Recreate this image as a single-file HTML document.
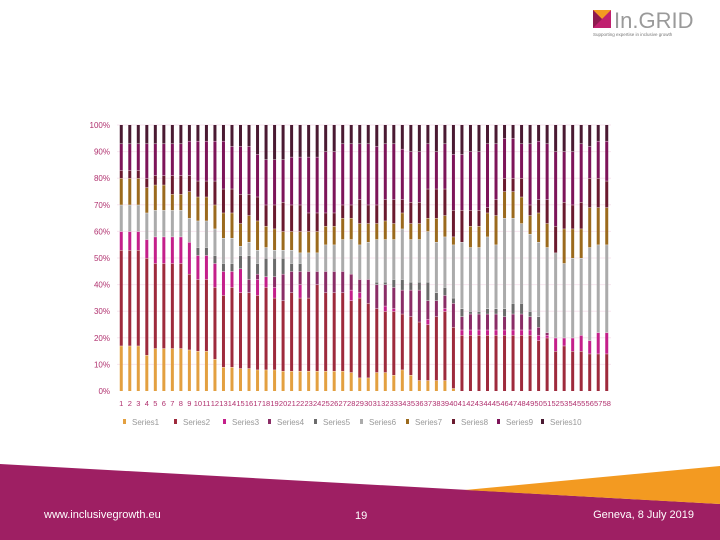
<!DOCTYPE html>
<html><head><meta charset="utf-8"><style>
body{margin:0;width:720px;height:540px;overflow:hidden;background:#fff;font-family:"Liberation Sans",sans-serif}
svg{display:block}
</style></head><body>
<svg id="chart" width="720" height="540" viewBox="0 0 720 540">
<g>
<polygon points="593,10 611,10 611,28 593,28" fill="#c0206f"/>
<polygon points="593,10 611,10 602,19" fill="#f39a21"/>
<polygon points="593,10 602,19 593,28" fill="#8e1a4f"/>
<text x="614" y="28" font-size="22" fill="#9a9a9a">In.GRID</text>
<text x="593" y="36" font-size="4.5" fill="#777">Supporting expertise in inclusive growth</text>
</g>
<g id="grid"></g><g id="bars"></g><g id="axes"></g><g id="legend"></g>
<g>
<polygon points="0,464 720,504 720,540 0,540" fill="#9e1f63"/>
<polygon points="465,490 720,466 720,504" fill="#f39a21"/>
<text x="44" y="518" font-size="11" fill="#fff">www.inclusivegrowth.eu</text>
<text x="355" y="519" font-size="11" fill="#fff">19</text>
<text x="694" y="518" font-size="11" fill="#fff" text-anchor="end">Geneva, 8 July 2019</text>
</g>
</svg>
<script>
const categories = Array.from({length:58},(_,i)=>String(i+1));
const yTicks = [0,10,20,30,40,50,60,70,80,90,100];
const seriesNames = ["Series1","Series2","Series3","Series4","Series5","Series6","Series7","Series8","Series9","Series10"];
const seriesColors = ["#e3a040","#9e2a3c","#c41f8a","#8a2d66","#6b6b6b","#ababab","#9b6a1d","#6a1a2e","#7d1459","#4a1a32"];
// cumulative top (%) of each series per category
const s1Top=[17,17,17,13.5,16,16,16,16,15.5,15,15,12,9,9,8.5,8.5,8,8,8,7.5,7.5,7.5,7.5,7.5,7.5,7.5,7.5,7,5,5,7,7,6,8,6,4,4,4,4,1,0,0,0,0,0,0,0,0,0,0,0,0,0,0,0,0,0,0];
const s2Top=[53,53,53,50,48,48,48,48,44,42,42,39,36,39,37,37,36,39,35,34,37,35,35,40,37,37,37,34,35,33,31,30,30,29,28,26,25,28,30,24,21,21,21,21,21,21,21,21,21,19,20,15,17,15,15,14,14,14];
const s3Top=[60,60,60,57,58,58,58,58,56,51,51,48,45,45,46,37,42,43,39,34,37,40,35,40,37,37,37,38,37,33,31,32,31,29,28,26,27,28,31,24,23,23,23,23,23,23,23,23,23,21,21,20,20,20,21,19,22,22];
const s4Top=[60,60,60,57,58,58,58,58,56,51,51,48,45,45,46,42,44,43,43,44,45,45,45,45,45,45,45,44,42,42,40,40,39,38,38,38,34,34,36,33,28,29,29,29,29,28,29,29,28,24,22,20,20,20,21,19,22,22];
const s5Top=[60,60,60,57,58,58,58,58,56,54,54,51,48,48,51,51,48,50,50,50,48,48,45,45,45,45,45,44,42,42,41,41,42,42,41,41,41,37,39,35,31,30,30,31,31,31,33,33,30,28,22,20,20,20,21,19,22,22];
const s6Top=[70,70,70,67,68,68,68,68,65,64,64,61,57.5,57.5,54.5,56,53,54,53,53,53,52,52,52,55,55,57,57,55,56,57,57,57,61,57,57,60,56,58,55,56,54,54,58,55,65,65,63,59,56,54,52,48,50,50,54,55,55];
const s7Top=[80,80,80,76.5,77.5,77.5,74,74,75,73,73,70,67,67,63,66,64,62,61,60,60,60,60,60,62,62,65,65,63,63,63,64,63,67,63,63,65,65,66,58,56,62,62,67,66,75,75,73,66,67,63,52,61,61,61,69,69,69];
const s8Top=[83,83,83,80,81,81,81,81,81,79,79,79,76,76,74,74,73,70,70,71,70,70,67,67,67,67,70,70,72,70,70,72,72,72,71,71,76,76,76,68,68,68,68,69,72,80,80,80,70,72,72,62,71,70,71,80,80,79];
const s9Top=[93,93,93,93,93,93,93,93,94,94,94,94,94,92,92,92,89,87,87,87,88,88,88,88,90,90,93,93,93,93,92,93,93,91,90,90,93,90,93,89,89,90,90,93,93,95,95,93,93,94,93,90,90,90,93,92,94,94];
const s10Top=categories.map(()=>100);
const tops=[s1Top,s2Top,s3Top,s4Top,s5Top,s6Top,s7Top,s8Top,s9Top,s10Top];

const NS="http://www.w3.org/2000/svg";
const plot={x0:117,x1:611,yTop:125,yBot:391};
const yScale=v=>plot.yBot-(v/100)*(plot.yBot-plot.yTop);
const step=(plot.x1-plot.x0)/categories.length;
const xScale=i=>plot.x0+step*(i+0.5);
function mk(tag,attrs,parent){const e=document.createElementNS(NS,tag);for(const k in attrs)e.setAttribute(k,attrs[k]);parent.appendChild(e);return e;}
const grid=document.getElementById('grid'),bars=document.getElementById('bars'),axes=document.getElementById('axes'),legend=document.getElementById('legend');
yTicks.forEach(t=>{
  const y=yScale(t);
  if(t>0){const l=mk('line',{x1:plot.x0,x2:plot.x1,y1:y,y2:y,stroke:'#f7e6ef','stroke-width':1},grid);
  
  }
  const tx=mk('text',{x:110,y:y+3,'font-size':8,fill:'#b0306e','text-anchor':'end'},axes);
  tx.textContent=t+'%';
  
  
});
categories.forEach((c,i)=>{
  const cx=xScale(i);
  let prev=0;
  tops.forEach((arr,s)=>{
    const top=arr[i];
    if(top>prev){
      const r=mk('rect',{x:cx-1.5,width:3,y:yScale(top),height:yScale(prev)-yScale(top),fill:seriesColors[s]},bars);
      
      
      if(s<9){const w=mk('rect',{x:cx-1.5,width:3,y:yScale(top)-0.4,height:0.8,fill:'#fff'},bars);
      
      }
    }
    prev=Math.max(prev,top);
  });
  const t=mk('text',{x:cx,y:406,'font-size':7.5,fill:'#b0306e','text-anchor':'middle'},axes);
  t.textContent=c;
  
  
});
const legX=[123,174,223,268,314,360,406,452,497,541];
seriesNames.forEach((n,s)=>{
  const g=mk('g',{},legend);
  
  
  mk('rect',{x:legX[s],y:419,width:3,height:5,fill:seriesColors[s]},g);
  const t=mk('text',{x:legX[s]+9,y:425,'font-size':8,fill:'#999'},g);
  t.textContent=n;
});
</script>
</body></html>
